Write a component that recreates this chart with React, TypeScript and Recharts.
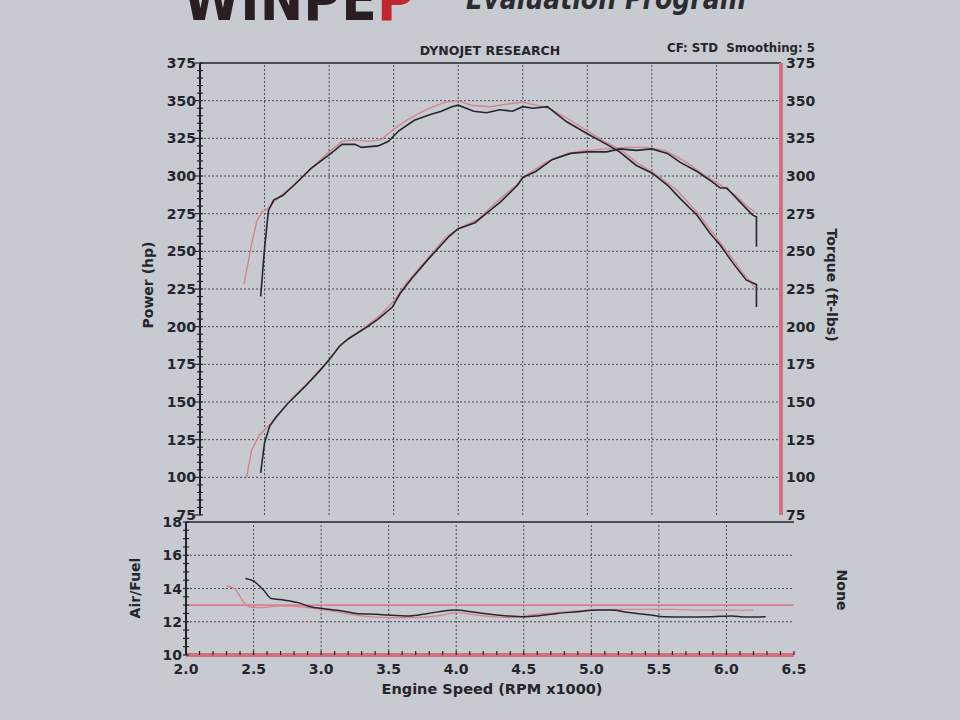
import React from 'react';
import { LineChart, Line, XAxis, YAxis, ReferenceLine } from 'recharts';

// ---------- Data ----------
const rpmGridLines = [2.5, 3.0, 3.5, 4.0, 4.5, 5.0, 5.5, 6.0];
const powerGridValues = [100, 125, 150, 175, 200, 225, 250, 275, 300, 325, 350];
const powerMajorTicks = [75, 100, 125, 150, 175, 200, 225, 250, 275, 300, 325, 350, 375];
const afrGridValues = [12, 14, 16];
const afrTarget = 13;

// Torque (ft-lbs), run 1 (black)
const torqueRun1Rpm = [2.47, 2.5, 2.53, 2.57, 2.64, 2.73, 2.86, 3.0, 3.1, 3.2, 3.25, 3.38, 3.46, 3.54, 3.66, 3.79, 3.87, 3.95, 4.0, 4.12, 4.22, 4.32, 4.42, 4.5, 4.58, 4.69, 4.84, 5.0, 5.15, 5.25, 5.38, 5.5, 5.62, 5.72, 5.85, 5.95, 6.03, 6.13, 6.23, 6.31, 6.31];
const torqueRun1 = [220, 252, 277, 284, 287, 294, 305, 314, 321, 321, 319, 320, 323, 330, 337, 341, 343, 346, 347, 343, 342, 344, 343, 346, 345, 346, 336, 328, 321, 316, 307, 302, 294, 285, 274, 262, 254, 242, 231, 228, 213];

// Torque (ft-lbs), run 2 (red)
const torqueRun2Rpm = [2.34, 2.4, 2.44, 2.48, 2.53, 2.6, 2.7, 2.85, 3.0, 3.1, 3.2, 3.3, 3.4, 3.5, 3.6, 3.75, 3.9, 4.0, 4.1, 4.25, 4.4, 4.5, 4.6, 4.7, 4.85, 5.0, 5.15, 5.25, 5.4, 5.55, 5.7, 5.85, 6.0, 6.1, 6.2, 6.3];
const torqueRun2 = [228, 255, 270, 276, 279, 285, 292, 304, 316, 323, 324, 323, 324, 331, 337, 344, 349, 350, 347, 346, 348, 349, 347, 345, 338, 330, 322, 318, 308, 300, 290, 276, 259, 248, 236, 226];

// Power (hp), run 1 (black)
const powerRun1Rpm = [2.47, 2.5, 2.54, 2.59, 2.68, 2.81, 2.93, 3.0, 3.08, 3.15, 3.28, 3.38, 3.49, 3.55, 3.64, 3.77, 3.93, 4.0, 4.13, 4.23, 4.33, 4.46, 4.5, 4.6, 4.73, 4.87, 5.0, 5.15, 5.25, 5.38, 5.5, 5.62, 5.72, 5.85, 5.97, 6.03, 6.08, 6.18, 6.28, 6.31, 6.31];
const powerRun1 = [103, 123, 134, 140, 149, 160, 171, 178, 187, 192, 199, 205, 213, 222, 232, 245, 260, 265, 269, 276, 283, 294, 299, 303, 311, 315, 316, 316, 318, 317, 318, 315, 309, 303, 296, 292, 292, 283, 274, 273, 253];

// Power (hp), run 2 (red)
const powerRun2Rpm = [2.36, 2.4, 2.46, 2.54, 2.6, 2.7, 2.85, 3.0, 3.1, 3.2, 3.3, 3.4, 3.5, 3.6, 3.75, 3.9, 4.0, 4.15, 4.3, 4.45, 4.55, 4.7, 4.85, 5.0, 5.15, 5.3, 5.45, 5.6, 5.75, 5.9, 6.05, 6.15, 6.25, 6.3];
const powerRun2 = [100, 118, 128, 135, 141, 151, 164, 178, 189, 195, 201, 208, 217, 229, 244, 259, 265, 271, 283, 294, 302, 310, 315, 317, 318, 319, 319, 317, 310, 301, 293, 287, 279, 276];

// Air/Fuel, run 1 (black)
const afrRun1Rpm = [2.44, 2.5, 2.58, 2.63, 2.73, 2.83, 2.92, 3.01, 3.16, 3.26, 3.41, 3.5, 3.65, 3.79, 3.99, 4.11, 4.25, 4.38, 4.5, 4.6, 4.75, 4.9, 5.04, 5.14, 5.28, 5.44, 5.54, 5.69, 5.89, 6.04, 6.14, 6.29];
const afrRun1 = [14.6, 14.45, 13.85, 13.4, 13.3, 13.15, 12.9, 12.8, 12.65, 12.5, 12.45, 12.4, 12.35, 12.5, 12.7, 12.6, 12.45, 12.35, 12.3, 12.35, 12.5, 12.6, 12.7, 12.7, 12.55, 12.4, 12.3, 12.28, 12.3, 12.35, 12.28, 12.3];

// Air/Fuel, run 2 (red)
const afrRun2Rpm = [2.3, 2.36, 2.42, 2.47, 2.55, 2.7, 2.85, 3.0, 3.15, 3.3, 3.5, 3.7, 3.9, 4.0, 4.2, 4.4, 4.6, 4.8, 5.0, 5.2, 5.4, 5.6, 5.8, 6.0, 6.2];
const afrRun2 = [14.15, 14.0, 13.25, 12.9, 12.85, 12.95, 12.9, 12.75, 12.55, 12.35, 12.25, 12.25, 12.4, 12.55, 12.35, 12.25, 12.45, 12.6, 12.7, 12.75, 12.75, 12.75, 12.7, 12.7, 12.7];

// ---------- Helpers ----------
const zip = (xs: number[], ys: number[]) => xs.map((x, i) => ({ rpm: x, v: ys[i] }));
const range = (a: number, b: number, step: number) => {
  const out: number[] = [];
  for (let i = 0; a + i * step <= b + 1e-9; i++) out.push(Math.round((a + i * step) * 1000) / 1000);
  return out;
};
const powerMinorTicks = range(75, 375, 5);
const afrMinorTicks = range(10, 18, 0.5);
const rpmMinorTicks = range(2.0, 6.5, 0.1);

const BG = '#c7cad0';
const INK = '#25252c';
const BLACK_RUN = '#26262e';
const RED_RUN = '#d9818e';
const RED_AXIS = '#d4707e';
const GRID = '#4a4a52';
const FONT = '"DejaVu Sans", Verdana, sans-serif';

const HpTick = (props: any) => {
  const { x, y, payload } = props;
  const v = payload.value;
  const major = Math.abs(v % 25) < 1e-6;
  return (
    <g>
      <line x1={x - (major ? 5 : 3)} x2={x + 3} y1={y} y2={y} stroke={INK} strokeWidth={1.2} />
      {major && (
        <text x={x - 4} y={y} dy={5} textAnchor="end" fontFamily={FONT} fontWeight="bold" fontSize={14} fill={INK}>
          {v}
        </text>
      )}
    </g>
  );
};

const AfrTick = (props: any) => {
  const { x, y, payload } = props;
  const v = payload.value;
  const major = Math.abs(v % 2) < 1e-6;
  return (
    <g>
      <line x1={x - 3} x2={x + 3} y1={y} y2={y} stroke={INK} strokeWidth={1.2} />
      {major && (
        <text x={x - 4} y={y} dy={5} textAnchor="end" fontFamily={FONT} fontWeight="bold" fontSize={14} fill={INK}>
          {v}
        </text>
      )}
    </g>
  );
};

const RpmTick = (props: any) => {
  const { x, y, payload } = props;
  const v = payload.value;
  const tenth = Math.round(v * 10);
  const major = tenth % 5 === 0;
  return (
    <g>
      <line x1={x} x2={x} y1={y - 4} y2={y} stroke={INK} strokeWidth={1.2} />
      {major && (
        <text x={x} y={y} dy={19} textAnchor="middle" fontFamily={FONT} fontWeight="bold" fontSize={14} fill={INK}>
          {(tenth / 10).toFixed(1)}
        </text>
      )}
    </g>
  );
};

const gridStyle = { stroke: GRID, strokeDasharray: '2 2', strokeWidth: 1 };

export default function App() {
  return (
    <div style={{ position: 'absolute', left: 0, top: 0, width: 960, height: 720, background: BG, overflow: 'hidden' }}>
      {/* Power / Torque chart */}
      <div style={{ position: 'absolute', left: 0, top: 0 }}>
        <LineChart width={960} height={540} margin={{ top: 63, right: 119, bottom: 25, left: 140 }}>
          <XAxis dataKey="rpm" type="number" domain={[2, 6.5]} ticks={rpmGridLines} allowDataOverflow height={0} tick={false} tickLine={false} axisLine={{ stroke: RED_AXIS, strokeWidth: 4 }} />
          <YAxis yAxisId="hp" orientation="left" type="number" domain={[75, 375]} ticks={powerMinorTicks} interval={0} width={60} tickSize={0} tickMargin={0} tickLine={false} tick={<HpTick />} axisLine={{ stroke: INK, strokeWidth: 2 }} allowDataOverflow />
          <YAxis yAxisId="tq" orientation="right" type="number" domain={[75, 375]} ticks={powerMajorTicks} interval={0} width={60} tickSize={0} tickMargin={5} tickLine={false} tick={{ fontFamily: FONT, fontWeight: 'bold', fontSize: 14, fill: INK }} axisLine={{ stroke: RED_AXIS, strokeWidth: 4 }} allowDataOverflow />
          {powerGridValues.map((v) => (
            <ReferenceLine key={'h' + v} yAxisId="hp" y={v} {...gridStyle} />
          ))}
          {rpmGridLines.map((v) => (
            <ReferenceLine key={'v' + v} yAxisId="hp" x={v} {...gridStyle} />
          ))}
          <ReferenceLine yAxisId="hp" y={375} stroke={INK} strokeWidth={1.5} />
          <Line yAxisId="tq" data={zip(torqueRun2Rpm, torqueRun2)} dataKey="v" type="linear" dot={false} stroke={RED_RUN} strokeWidth={1.4} isAnimationActive={false} />
          <Line yAxisId="hp" data={zip(powerRun2Rpm, powerRun2)} dataKey="v" type="linear" dot={false} stroke={RED_RUN} strokeWidth={1.4} isAnimationActive={false} />
          <Line yAxisId="tq" data={zip(torqueRun1Rpm, torqueRun1)} dataKey="v" type="linear" dot={false} stroke={BLACK_RUN} strokeWidth={1.6} isAnimationActive={false} />
          <Line yAxisId="hp" data={zip(powerRun1Rpm, powerRun1)} dataKey="v" type="linear" dot={false} stroke={BLACK_RUN} strokeWidth={1.6} isAnimationActive={false} />
        </LineChart>
      </div>

      {/* Air/Fuel chart */}
      <div style={{ position: 'absolute', left: 0, top: 500 }}>
        <LineChart width={960} height={220} margin={{ top: 22, right: 166, bottom: 10, left: 126 }}>
          <XAxis dataKey="rpm" type="number" domain={[2, 6.5]} ticks={rpmMinorTicks} interval={0} allowDataOverflow height={55} tickSize={0} tickMargin={0} tickLine={false} tick={<RpmTick />} axisLine={{ stroke: RED_AXIS, strokeWidth: 4 }} />
          <YAxis yAxisId="afr" orientation="left" type="number" domain={[10, 18]} ticks={afrMinorTicks} interval={0} width={60} tickSize={0} tickMargin={0} tickLine={false} tick={<AfrTick />} axisLine={{ stroke: INK, strokeWidth: 2 }} allowDataOverflow />
          <YAxis yAxisId="none" orientation="right" type="number" domain={[10, 18]} width={0} tick={false} tickLine={false} axisLine={{ stroke: RED_AXIS, strokeWidth: 4 }} />
          {afrGridValues.map((v) => (
            <ReferenceLine key={'h' + v} yAxisId="afr" y={v} {...gridStyle} />
          ))}
          {rpmGridLines.map((v) => (
            <ReferenceLine key={'v' + v} yAxisId="afr" x={v} {...gridStyle} />
          ))}
          <ReferenceLine yAxisId="afr" y={18} stroke={INK} strokeWidth={1.5} />
          <ReferenceLine yAxisId="afr" y={afrTarget} stroke={RED_RUN} strokeWidth={1.6} />
          <Line yAxisId="afr" data={zip(afrRun2Rpm, afrRun2)} dataKey="v" type="monotone" dot={false} stroke={RED_RUN} strokeWidth={1.3} isAnimationActive={false} />
          <Line yAxisId="afr" data={zip(afrRun1Rpm, afrRun1)} dataKey="v" type="monotone" dot={false} stroke={BLACK_RUN} strokeWidth={1.5} isAnimationActive={false} />
        </LineChart>
      </div>

      {/* Titles and axis labels */}
      <svg width={960} height={720} style={{ position: 'absolute', left: 0, top: 0, pointerEvents: 'none' }}>
        <text x={183} y={20} fontFamily={FONT} fontWeight="900" fontSize={60} fill="#2a1e22" textLength={232} lengthAdjust="spacingAndGlyphs">
          WINPE<tspan fill="#c0262d">P</tspan>
        </text>
        <text x={466} y={9} fontFamily={FONT} fontWeight="bold" fontStyle="italic" fontSize={30} fill="#2c2c30" textLength={280} lengthAdjust="spacingAndGlyphs">
          Evaluation Program
        </text>
        <text x={490} y={55} textAnchor="middle" fontFamily={FONT} fontWeight="bold" fontSize={12.5} fill={INK}>
          DYNOJET RESEARCH
        </text>
        <text x={667} y={52} fontFamily={FONT} fontWeight="bold" fontSize={12.5} fill={INK} textLength={148} lengthAdjust="spacingAndGlyphs">
          {'CF: STD\u00A0\u00A0Smoothing: 5'}
        </text>
        <text transform="translate(148,285) rotate(-90)" textAnchor="middle" dominantBaseline="central" fontFamily={FONT} fontWeight="bold" fontSize={14} fill={INK}>
          Power (hp)
        </text>
        <text transform="translate(832,285) rotate(90)" textAnchor="middle" dominantBaseline="central" fontFamily={FONT} fontWeight="bold" fontSize={14} fill={INK}>
          Torque (ft-lbs)
        </text>
        <text transform="translate(135,588) rotate(-90)" textAnchor="middle" dominantBaseline="central" fontFamily={FONT} fontWeight="bold" fontSize={14} fill={INK}>
          Air/Fuel
        </text>
        <text transform="translate(842,590) rotate(90)" textAnchor="middle" dominantBaseline="central" fontFamily={FONT} fontWeight="bold" fontSize={14} fill={INK}>
          None
        </text>
        <text x={492} y={694} textAnchor="middle" fontFamily={FONT} fontWeight="bold" fontSize={14.5} fill={INK}>
          Engine Speed (RPM x1000)
        </text>
      </svg>
    </div>
  );
}
